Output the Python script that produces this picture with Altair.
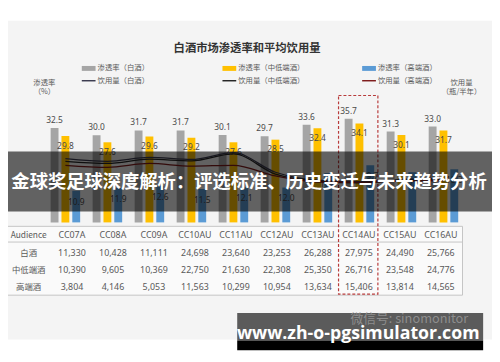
import altair as alt
import pandas as pd

# ---------------- data ----------------
categories = ["CC07A", "CC08A", "CC09A", "CC10AU", "CC11AU",
              "CC12AU", "CC13AU", "CC14AU", "CC15AU", "CC16AU"]
series = ["白酒", "中低端酒", "高端酒"]

pen_baijiu = [32.5, 30.0, 31.7, 31.7, 30.1, 29.7, 33.6, 35.7, 31.3, 33.0]
pen_mid = [29.8, 27.6, 29.6, 29.2, 27.6, 28.5, 32.4, 34.1, 30.1, 31.7]
pen_high = [10.9, 11.9, 12.6, 11.5, 12.1, 12.0, 17.0, 19.7, 17.3, 18.3]

vol_baijiu = [5.75, 5.63, 5.80, 5.71, 6.00, 5.16, 4.82, 4.75, 4.85, 4.90]
vol_mid = [5.63, 5.54, 5.72, 5.65, 5.95, 5.08, 4.78, 4.70, 4.80, 4.85]
vol_high = [5.46, 5.37, 5.54, 5.42, 5.46, 5.00, 4.74, 4.72, 4.78, 4.80]

aud_row_labels = ["Audience", "白酒", "中低端酒", "高端酒"]
aud_baijiu = ["11,330", "10,428", "11,111", "24,698", "23,640",
              "23,253", "26,288", "27,975", "24,490", "25,766"]
aud_mid = ["10,390", "9,605", "10,369", "22,750", "21,630",
           "22,308", "25,350", "26,716", "23,548", "24,776"]
aud_high = ["3,804", "4,146", "5,053", "11,563", "10,299",
            "10,954", "13,634", "15,406", "13,814", "14,565"]

bar_legend = ["渗透率（白酒）", "渗透率（中低端酒）", "渗透率（高端酒）"]
line_legend = ["饮用量（白酒）", "饮用量（中低端酒）", "饮用量（高端酒）"]
title_text = "白酒市场渗透率和平均饮用量"
left_title = ["渗透率", "（%）"]
right_title = ["饮用量", "（瓶/半年）"]
banner_text = "金球奖足球深度解析：评选标准、历史变迁与未来趋势分析"
url_text = "www.zh-o-pgsimulator.com"
watermark_text = "微信号: sinomonitor"

# ---------------- styles ----------------
CJK = "Noto Sans CJK SC"
NUM = "Noto Sans"
TXT = "#595959"
bar_colors = ["#a5a5a5", "#ffc000", "#5b9bd5"]
line_colors = ["#3c3c50", "#262626", "#7f1d1d"]

pen_df = pd.DataFrame(
    [{"category": c, "series": s, "value": v, "label": f"{v:.1f}"}
     for s, vals in zip(series, [pen_baijiu, pen_mid, pen_high])
     for c, v in zip(categories, vals)]
)
vol_df = pd.DataFrame(
    [{"category": c, "series": s, "value": v}
     for s, vals in zip(series, [vol_baijiu, vol_mid, vol_high])
     for c, v in zip(categories, vals)]
)
aud_rows = [categories, aud_baijiu, aud_mid, aud_high]
aud_df = pd.DataFrame(
    [{"col": i, "row": r, "text": t}
     for r, row in enumerate(aud_rows) for i, t in enumerate(row)]
)
rowlab_df = pd.DataFrame({"row": list(range(4)), "text": aud_row_labels})
one = pd.DataFrame({"a": [0]})

xscale = alt.Scale(domain=categories, range=[37, 464],
                   paddingInner=0.227, paddingOuter=0.1135)
xoff = alt.Scale(domain=series, paddingInner=0.2727, paddingOuter=0.1364)
yl = alt.Scale(domain=[0, 40], range=[215, 97], nice=False, zero=False)
yr = alt.Scale(domain=[3, 8], range=[215, 97], nice=False, zero=False)

X = alt.X("category:N", scale=xscale, sort=categories, axis=None)
XO = alt.XOffset("series:N", scale=xoff, sort=series)


def rect(x, x2, y, y2, **kw):
    return alt.Chart(one).mark_rect(**kw).encode(
        x=alt.value(x), x2=alt.value(x2), y=alt.value(y), y2=alt.value(y2))


def rule(x, x2, y, y2, **kw):
    return alt.Chart(one).mark_rule(**kw).encode(
        x=alt.value(x), x2=alt.value(x2), y=alt.value(y), y2=alt.value(y2))


def label(txt, x, y, **kw):
    return alt.Chart(one).mark_text(**kw).encode(
        x=alt.value(x), y=alt.value(y), text=alt.value(txt))


layers = []
# background
layers.append(rect(0, 492, 10, 334, color="#f4f4f4"))
# title
layers.append(label(title_text, 243, 39, font=CJK, fontSize=11.5,
                    fontWeight="bold", color="#333333"))
# legend
lx = [75, 218, 360]
for i in range(3):
    layers.append(rect(lx[i], lx[i] + 14, 56, 61, color=bar_colors[i]))
    layers.append(label(bar_legend[i], lx[i] + 16, 58.5, font=CJK, fontSize=7.5,
                        color=TXT, align="left", baseline="middle"))
    layers.append(rule(lx[i], lx[i] + 14, 71, 71, color=line_colors[i],
                       strokeWidth=1.5))
    layers.append(label(line_legend[i], lx[i] + 16, 71, font=CJK, fontSize=7.5,
                        color=TXT, align="left", baseline="middle"))
# axis titles
for j, t in enumerate(left_title):
    layers.append(label(t, 37, 73 + 9 * j, font=CJK, fontSize=7.5, color=TXT,
                        baseline="middle"))
for j, t in enumerate(right_title):
    layers.append(label(t, 461, 73 + 9 * j, font=CJK, fontSize=7.5, color=TXT,
                        baseline="middle"))

# bars
layers.append(
    alt.Chart(pen_df).mark_bar().encode(
        x=X, xOffset=XO,
        y=alt.Y("value:Q", scale=yl, axis=alt.Axis(
            orient="left", offset=-37, values=[0, 20, 40], format=".1f",
            grid=False, domainColor="#a0a0a0", tickColor="#a0a0a0", tickSize=3,
            labelFontSize=8.5, labelColor=TXT, labelFont=NUM, labelPadding=4,
            title=None)),
        color=alt.Color("series:N", scale=alt.Scale(domain=series, range=bar_colors),
                        legend=None),
    )
)
# bar labels
for s, dy in zip(series, [-8, 10, 11]):
    layers.append(
        alt.Chart(pen_df).transform_filter(alt.datum.series == s)
        .mark_text(font=NUM, fontSize=8.5, color="#4a4a4a", dy=dy, baseline="middle")
        .encode(x=X, xOffset=XO,
                y=alt.Y("value:Q", scale=yl, axis=None),
                text="label:N")
    )
# lines
layers.append(
    alt.Chart(vol_df).mark_line(interpolate="monotone", strokeWidth=1.3).encode(
        x=X,
        y=alt.Y("value:Q", scale=yr, axis=alt.Axis(
            orient="right", offset=-28, values=[3, 5.5, 8], format=".1f",
            grid=False, domainColor="#a0a0a0", tickColor="#a0a0a0", tickSize=3,
            labelFontSize=8.5, labelColor=TXT, labelFont=NUM, labelPadding=4,
            title=None)),
        color=alt.Color("series:N", scale=alt.Scale(domain=series, range=line_colors),
                        legend=None),
    )
)

# table
layers.append(rect(-3, 462, 219, 289, fill="#fafafa", stroke="#c4c4c4",
                   strokeWidth=1))
layers.append(rule(-3, 462, 235, 235, color="#c4c4c4", strokeWidth=1))
layers.append(
    alt.Chart(aud_df).mark_text(font=NUM, fontSize=9, color=TXT, baseline="middle")
    .encode(x=alt.X("col:Q", scale=alt.Scale(domain=[0, 9], range=[65, 440]),
                    axis=None),
            y=alt.Y("row:Q", scale=alt.Scale(domain=[0, 3], range=[228, 281]),
                    axis=None),
            text="text:N")
)
layers.append(
    alt.Chart(rowlab_df).mark_text(font=CJK, fontSize=8.5, color=TXT,
                                   baseline="middle")
    .encode(x=alt.value(21),
            y=alt.Y("row:Q", scale=alt.Scale(domain=[0, 3], range=[228, 281]),
                    axis=None),
            text="text:N")
)
# highlight box around CC14AU
layers.append(rect(336, 376, 86, 288, fill="#ffffff", fillOpacity=0,
                   stroke="#b83b3b", strokeWidth=1.2, strokeDash=[3, 2]))

# overlay banner
layers.append(rect(0, 492, 143, 204, color="#000000", opacity=0.6))
layers.append(label(banner_text, 245, 174, font=CJK, fontSize=18.6,
                    fontWeight="bold", color="#ffffff", baseline="middle"))
# bottom url box
layers.append(rect(233, 483, 307, 335, color="#5b5b5b"))
layers.append(rect(233, 483, 335, 345, color="#000000"))
layers.append(label(watermark_text, 408, 313, font=CJK, fontSize=13,
                    color="#9a9a9a", opacity=0.8, baseline="middle"))
layers.append(label(url_text, 356, 334, font="Open Sans", fontSize=18,
                    fontWeight="bold", color="#ffffff", baseline="alphabetic"))

chart = (
    alt.layer(*layers)
    .resolve_scale(x="independent", y="independent", color="independent")
    .properties(width=492, height=354, autosize=alt.AutoSizeParams(type="none"),
                padding=0, background="white")
    .configure_view(strokeWidth=0)
)

chart.save("out.html", embed_options={"renderer": "svg", "actions": False})
